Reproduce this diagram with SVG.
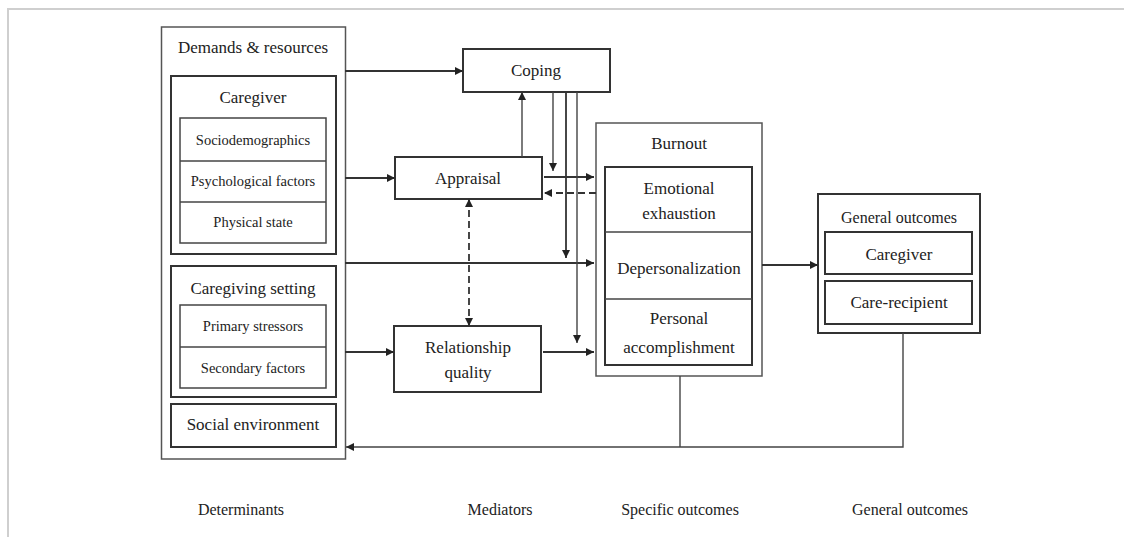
<svg xmlns="http://www.w3.org/2000/svg" width="1124" height="537" viewBox="0 0 1124 537">
<defs>
<marker id="arr" viewBox="0 0 10 10" refX="10" refY="5" markerWidth="8" markerHeight="8" markerUnits="userSpaceOnUse" orient="auto-start-reverse">
<path d="M0,0 L10,5 L0,10 z" fill="#222"/>
</marker>
</defs>
<style>
text{font-family:"Liberation Serif","Times New Roman",serif;fill:#222;text-anchor:middle;dominant-baseline:central}
.t17{font-size:17px}
.t16{font-size:16px}
.t15{font-size:14.5px}
.outer{fill:#fff;stroke:#555;stroke-width:1.5}
.box{fill:#fff;stroke:#333;stroke-width:2}
.inner{fill:#fff;stroke:#444;stroke-width:1.5}
.div{stroke:#444;stroke-width:1.5}
.c{fill:none;stroke:#333;stroke-width:1.8}
.cl{fill:none;stroke:#444;stroke-width:1.4}
.dash{stroke-dasharray:7,4}
.frame{fill:none;stroke:#cfcfcf;stroke-width:2}
</style>
<rect width="1124" height="537" fill="#fff"/>
<path class="frame" d="M8,537 L8,9 L1124,9"/>

<g id="demands">
<rect class="outer" x="161.5" y="27" width="184" height="432"/>
<text class="t17" x="253" y="47">Demands &amp; resources</text>
</g>
<g id="caregiver">
<rect class="box" x="171" y="76" width="165" height="178"/>
<text class="t17" x="253" y="97">Caregiver</text>
<rect class="inner" x="180" y="118" width="146" height="125"/>
<line class="div" x1="180" y1="161" x2="326" y2="161"/>
<line class="div" x1="180" y1="202" x2="326" y2="202"/>
<text class="t15" x="253" y="140">Sociodemographics</text>
<text class="t15" x="253" y="181">Psychological factors</text>
<text class="t15" x="253" y="222">Physical state</text>
</g>
<g id="caregiving-setting">
<rect class="box" x="171" y="266" width="165" height="131"/>
<text class="t17" x="253" y="288">Caregiving setting</text>
<rect class="inner" x="180" y="305" width="146" height="83"/>
<line class="div" x1="180" y1="347" x2="326" y2="347"/>
<text class="t15" x="253" y="326">Primary stressors</text>
<text class="t15" x="253" y="368">Secondary factors</text>
</g>
<g id="social">
<rect class="box" x="171" y="404" width="165" height="43"/>
<text class="t17" x="253" y="424">Social environment</text>
</g>
<g id="coping">
<rect class="box" x="463" y="49" width="147" height="43"/>
<text class="t17" x="536" y="70">Coping</text>
</g>
<g id="appraisal">
<rect class="box" x="395" y="157" width="147" height="42"/>
<text class="t17" x="468" y="178">Appraisal</text>
</g>
<g id="relationship">
<rect class="box" x="394" y="326" width="147" height="66"/>
<text class="t17" x="468" y="347">Relationship</text>
<text class="t17" x="468" y="372">quality</text>
</g>
<g id="burnout">
<rect class="outer" x="596" y="123" width="166" height="253"/>
<text class="t17" x="679" y="143">Burnout</text>
<rect class="box" x="605" y="167" width="147" height="198"/>
<line class="div" x1="605" y1="232" x2="752" y2="232"/>
<line class="div" x1="605" y1="299" x2="752" y2="299"/>
<text class="t17" x="679" y="188">Emotional</text>
<text class="t17" x="679" y="213">exhaustion</text>
<text class="t17" x="679" y="268">Depersonalization</text>
<text class="t17" x="679" y="318">Personal</text>
<text class="t17" x="679" y="347">accomplishment</text>
</g>
<g id="general">
<rect class="box" x="818" y="194" width="162" height="139"/>
<text class="t16" x="899" y="217">General outcomes</text>
<rect class="box" x="825" y="232" width="147" height="42"/>
<text class="t17" x="899" y="254">Caregiver</text>
<rect class="box" x="825" y="281" width="147" height="43"/>
<text class="t17" x="899" y="302">Care-recipient</text>
</g>

<g id="connectors">
<line class="c" x1="345" y1="71" x2="463" y2="71" marker-end="url(#arr)"/>
<line class="c" x1="345" y1="178" x2="395" y2="178" marker-end="url(#arr)"/>
<line class="c" x1="345" y1="263" x2="594" y2="263" marker-end="url(#arr)"/>
<line class="c" x1="345" y1="352" x2="394" y2="352" marker-end="url(#arr)"/>
<line class="cl" x1="522" y1="157" x2="522" y2="92" marker-end="url(#arr)"/>
<line class="c" x1="544" y1="177" x2="594" y2="177" marker-end="url(#arr)"/>
<line class="c dash" x1="596" y1="193" x2="544" y2="193" marker-end="url(#arr)"/>
<line class="c" x1="543" y1="352" x2="594" y2="352" marker-end="url(#arr)"/>
<line class="c dash" x1="469" y1="199" x2="469" y2="326" marker-start="url(#arr)" marker-end="url(#arr)"/>
<line class="cl" x1="553" y1="92" x2="553" y2="171" marker-end="url(#arr)"/>
<line class="c" x1="566" y1="92" x2="566" y2="258" marker-end="url(#arr)"/>
<line class="cl" x1="577" y1="92" x2="577" y2="343" marker-end="url(#arr)"/>
<line class="c" x1="762" y1="265" x2="818" y2="265" marker-end="url(#arr)"/>
<polyline class="cl" points="903,333 903,447 346,447" marker-end="url(#arr)"/>
<line class="cl" x1="680" y1="376" x2="680" y2="447"/>
</g>

<g id="labels">
<text class="t16" x="241" y="509">Determinants</text>
<text class="t16" x="500" y="509">Mediators</text>
<text class="t16" x="680" y="509">Specific outcomes</text>
<text class="t16" x="910" y="509">General outcomes</text>
</g>
</svg>
